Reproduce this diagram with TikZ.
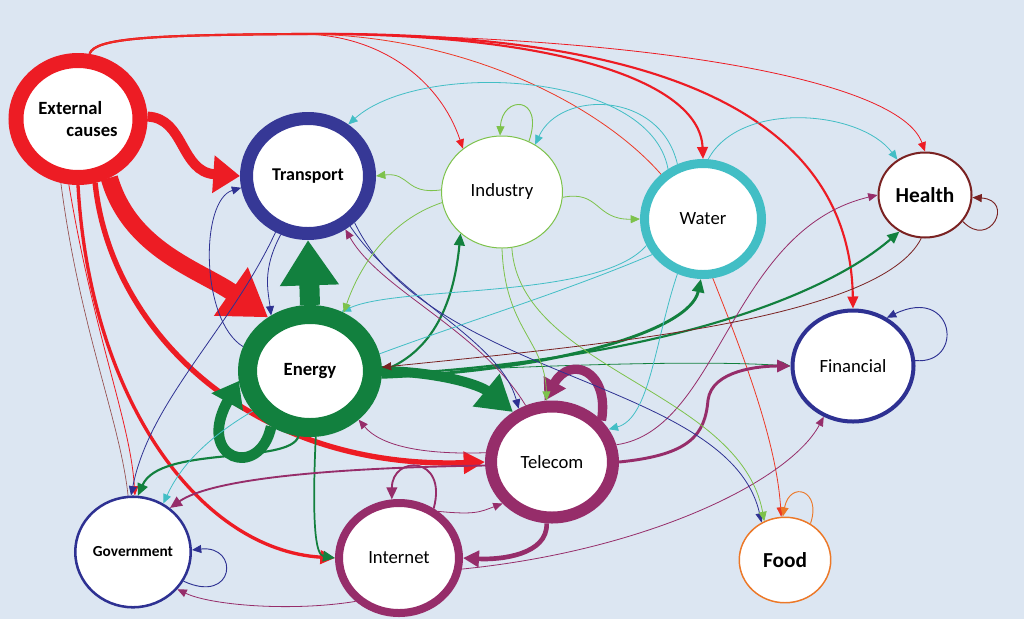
\documentclass[tikz,border=0pt]{standalone}
\usepackage{fontspec}
\setmainfont{Carlito}
\usetikzlibrary{shapes.geometric,arrows.meta}
\pgfdeclarelayer{bg}
\pgfdeclarelayer{edges}
\pgfsetlayers{bg,edges,main}
\begin{document}
\begin{tikzpicture}[x=0.75pt, y=-0.75pt, line cap=round,
  sector/.style={ellipse, draw, fill=white, inner sep=0pt, font=\fontsize{14}{17}\selectfont},
  link/.style={line width=0.6pt, -{Triangle[length=7pt,width=6pt]}},
  midlink/.style={line width=1.6pt, -{Triangle[length=9pt,width=8pt]}},
  loop/.style={line width=0.7pt, -{Triangle[length=7pt,width=6pt]}}]
  \definecolor{bgblue}{RGB}{220,230,242}
  \definecolor{extred}{RGB}{237,28,36}
  \definecolor{trblue}{RGB}{54,56,150}
  \definecolor{navy}{RGB}{46,49,146}
  \definecolor{indgreen}{RGB}{125,194,75}
  \definecolor{watcyan}{RGB}{66,190,197}
  \definecolor{hlbrown}{RGB}{122,34,34}
  \definecolor{engreen}{RGB}{18,128,62}
  \definecolor{telpurple}{RGB}{150,45,106}
  \definecolor{foodorange}{RGB}{236,120,40}
  \begin{pgfonlayer}{bg}
    \fill[bgblue] (0,0) rectangle (1024,619);
  \end{pgfonlayer}
  % sectors
  \node[sector, draw=extred, line width=11.25pt, minimum width=93pt, minimum height=87.75pt, font=\fontsize{14}{17}\selectfont\bfseries, align=left]
    (ext) at (78,119) {External\\\hspace*{1.5em}causes};
  \node[sector, draw=trblue, line width=9.75pt, minimum width=92.25pt, minimum height=86.25pt, font=\fontsize{13.5}{16}\selectfont\bfseries]
    (transport) at (308,176) {Transport};
  \node[sector, draw=indgreen, line width=0.75pt, minimum width=90.75pt, minimum height=84pt]
    (industry) at (502,192) {Industry};
  \node[sector, draw=watcyan, line width=6.75pt, minimum width=87.75pt, minimum height=83.25pt]
    (water) at (703,219) {Water};
  \node[sector, draw=hlbrown, line width=1.5pt, minimum width=69.75pt, minimum height=63.75pt, font=\fontsize{16}{18}\selectfont\bfseries]
    (health) at (925,195) {Health};
  \node[sector, draw=engreen, line width=14.25pt, minimum width=93.75pt, minimum height=84.75pt, font=\fontsize{14}{17}\selectfont\bfseries]
    (energy) at (310,371) {Energy};
  \node[sector, draw=navy, line width=3pt, minimum width=90.75pt, minimum height=83.25pt]
    (financial) at (853,366) {Financial};
  \node[sector, draw=telpurple, line width=9pt, minimum width=91.5pt, minimum height=83.25pt]
    (telecom) at (552,462) {Telecom};
  \node[sector, draw=navy, line width=1.9pt, minimum width=86.6pt, minimum height=82.9pt, font=\fontsize{11.5}{14}\selectfont\bfseries]
    (gov) at (133,552) {Government};
  \node[sector, draw=telpurple, line width=6pt, minimum width=90pt, minimum height=82.5pt]
    (internet) at (399,558) {Internet};
  \node[sector, draw=foodorange, line width=1.1pt, minimum width=68.6pt, minimum height=64.1pt, font=\fontsize{16}{18}\selectfont\bfseries]
    (food) at (785,560) {Food};
  \begin{pgfonlayer}{edges}
  % external causes
  \draw[extred, line width=7.5pt, -{Triangle[length=20pt,width=27pt]}] (ext.2) .. controls (185,118) and (180,172) .. (transport.west);
  \draw[extred, line width=13pt, -{Triangle[length=34pt,width=42pt]}] (ext.-62) .. controls (130,250) and (200,270) .. (energy.128);
  \draw[extred, line width=4pt, -{Triangle[length=16pt,width=16pt]}] (ext.-75) .. controls (110,330) and (250,470) .. (telecom.west);
  \draw[extred, line width=2.5pt, -{Triangle[length=11pt,width=10pt]}] (ext.-90) .. controls (90,400) and (200,550) .. (internet.west);
  \draw[extred, link] (ext.-98) .. controls (95,340) and (130,420) .. (gov.88);
  \draw[hlbrown!80, line width=0.5pt] (ext.-105) .. controls (80,330) and (120,420) .. (gov.95);
  \draw[extred, midlink] (ext.80) .. controls (95,38) and (150,35) .. (300,34) .. controls (550,32) and (700,80) .. (water.north);
  \draw[extred, midlink] (ext.80) .. controls (95,38) and (150,35) .. (300,34) .. controls (650,30) and (850,110) .. (financial.north);
  \draw[extred, link] (ext.80) .. controls (95,38) and (150,35) .. (300,34) .. controls (650,35) and (900,80) .. (health.north);
  \draw[extred, link] (ext.80) .. controls (95,38) and (150,35) .. (300,34) .. controls (380,34) and (440,80) .. (industry.132);
  \draw[extred!70!foodorange, link] (ext.80) .. controls (95,38) and (150,35) .. (300,34) .. controls (500,34) and (660,140) .. (690,220) .. controls (720,300) and (775,420) .. (food.95);
  % energy
  \draw[engreen, line width=15pt, -{Triangle[length=34pt,width=42pt]}] (energy.north) -- (transport.south);
  \draw[engreen, line width=8pt, -{Triangle[length=18pt,width=26pt]}] (energy.235) .. controls (260,480) and (195,460) .. (energy.188);
  \draw[engreen, line width=7.5pt, -{Triangle[length=26pt,width=30pt]}] (energy.east) .. controls (440,372) and (480,385) .. (telecom.128);
  \draw[engreen, line width=2.2pt, -{Triangle[length=10pt,width=9pt]}] (energy.-5) .. controls (560,370) and (690,330) .. (water.-92);
  \draw[engreen, midlink] (energy.-3) .. controls (650,360) and (820,300) .. (health.-125);
  \draw[engreen, link] (energy.-2) .. controls (550,365) and (700,360) .. (financial.west);
  \draw[engreen, midlink] (energy.east) .. controls (440,350) and (455,290) .. (industry.-135);
  \draw[engreen, midlink] (energy.-100) .. controls (290,465) and (160,445) .. (gov.85);
  \draw[engreen, midlink, line width=1.3pt] (energy.-85) .. controls (312,520) and (315,555) .. (internet.west);
  % telecom and internet
  \draw[telpurple, line width=7pt, -{Triangle[length=16pt,width=18pt]}] (telecom.40) .. controls (610,370) and (570,355) .. (telecom.97);
  \draw[telpurple, line width=3.5pt, -{Triangle[length=12pt,width=12pt]}] (telecom.-95) .. controls (548,555) and (500,560) .. (internet.east);
  \draw[telpurple, line width=2.2pt, -{Triangle[length=10pt,width=9pt]}] (telecom.east) .. controls (690,455) and (705,435) .. (708,400) .. controls (712,370) and (760,366) .. (financial.west);
  \draw[telpurple, midlink, line width=1.4pt] (telecom.183) .. controls (320,468) and (210,480) .. (gov.50);
  \draw[telpurple, link] (telecom.172) .. controls (420,455) and (380,445) .. (energy.-45);
  \draw[telpurple, link] (telecom.15) .. controls (720,430) and (730,230) .. (health.west);
  \draw[telpurple, link] (telecom.115) .. controls (480,330) and (380,290) .. (transport.-55);
  \draw[telpurple, midlink, line width=1.4pt] (internet.55) .. controls (448,455) and (392,455) .. (internet.97);
  \draw[telpurple, link] (internet.50) .. controls (475,515) and (480,512) .. (telecom.-140);
  \draw[telpurple, link] (internet.-135) .. controls (290,612) and (210,605) .. (gov.-40);
  \draw[telpurple, link] (internet.-10) .. controls (650,550) and (790,480) .. (financial.-120);
  % transport, financial, government
  \draw[navy, link] (transport.-115) .. controls (262,270) and (268,290) .. (energy.125);
  \draw[navy, link] (energy.160) .. controls (200,320) and (200,200) .. (transport.190);
  \draw[navy, link] (transport.-50) .. controls (400,300) and (500,340) .. (telecom.122);
  \draw[navy, link] (transport.-45) .. controls (430,380) and (730,380) .. (food.122);
  \draw[navy, link] (transport.-120) .. controls (230,330) and (150,400) .. (gov.92);
  \draw[navy, loop] (financial.5) .. controls (965,365) and (955,285) .. (financial.55);
  \draw[navy, loop] (gov.-30) .. controls (235,605) and (240,545) .. (gov.2);
  % water
  \draw[watcyan, link] (water.125) .. controls (650,70) and (420,60) .. (transport.52);
  \draw[watcyan, link] (water.115) .. controls (660,90) and (560,90) .. (industry.55);
  \draw[watcyan, link] (water.85) .. controls (740,100) and (860,110) .. (health.128);
  \draw[watcyan, link] (water.205) .. controls (600,300) and (400,285) .. (energy.62);
  \draw[watcyan, link] (water.-115) .. controls (655,340) and (650,418) .. (telecom.30);
  \draw[watcyan, link] (water.215) .. controls (450,340) and (220,380) .. (gov.58);
  % industry
  \draw[indgreen, loop] (industry.62) .. controls (545,95) and (502,95) .. (industry.92);
  \draw[indgreen, link] (industry.178) .. controls (405,195) and (410,172) .. (transport.east);
  \draw[indgreen, link] (industry.-5) .. controls (600,190) and (595,220) .. (water.west);
  \draw[indgreen, link] (industry.190) .. controls (390,220) and (360,265) .. (energy.60);
  \draw[indgreen, link] (industry.-90) .. controls (505,330) and (545,340) .. (telecom.95);
  \draw[indgreen, link] (industry.-80) .. controls (520,370) and (740,390) .. (food.118);
  % health and food
  \draw[hlbrown, loop] (health.-35) .. controls (990,250) and (1015,200) .. (health.-3);
  \draw[hlbrown, link] (health.-95) .. controls (880,320) and (600,345) .. (energy.3);
  \draw[foodorange, loop] (food.55) .. controls (822,490) and (790,480) .. (food.93);
  \end{pgfonlayer}
\end{tikzpicture}
\end{document}
